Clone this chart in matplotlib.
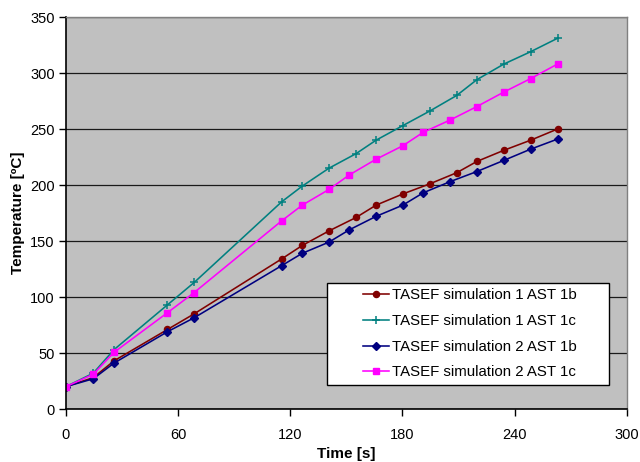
import matplotlib
matplotlib.use("Agg")
import matplotlib.pyplot as plt
from matplotlib.patches import Rectangle

plt.rcParams['font.family'] = ['Liberation Sans', 'DejaVu Sans']

# Simulation time samples [s]
time_sim1 = [0, 14.6, 25.7, 54.3, 68.6, 115.4, 126.4, 140.7, 155.2, 165.9,
             180.2, 194.6, 209.1, 219.8, 234.3, 248.6, 263.0]
time_sim2 = [0, 14.6, 25.7, 54.3, 68.6, 115.4, 126.4, 140.7, 151.6, 165.9,
             180.2, 191.1, 205.5, 219.8, 234.3, 248.6, 263.0]

# Temperatures [°C]
sim1_ast1b = [20, 28, 43, 71, 85, 134, 146, 159, 171, 182,
              192, 201, 211, 221, 231, 240, 250]
sim1_ast1c = [20, 32, 53, 93, 113, 185, 199, 215, 228, 240,
              253, 266, 280, 294, 308, 319, 331]
sim2_ast1b = [20, 27, 41, 69, 81.5, 128, 139, 149, 160, 172,
              182, 193, 203, 212, 222, 232, 241]
sim2_ast1c = [20, 31, 50.6, 86, 104, 168, 182, 196, 209, 223,
              235, 247, 258, 270, 283, 295, 308]

labels = ["TASEF simulation 1 AST 1b", "TASEF simulation 1 AST 1c",
          "TASEF simulation 2 AST 1b", "TASEF simulation 2 AST 1c"]

x_ticks = [0, 60, 120, 180, 240, 300]
y_ticks = [0, 50, 100, 150, 200, 250, 300, 350]

fig = plt.figure(figsize=(6.4, 4.62), dpi=100)
ax = fig.add_axes([0.1031, 0.1147, 0.8761, 0.8485])
ax.set_facecolor('#C0C0C0')

ax.plot(time_sim1, sim1_ast1b, color='#800000', marker='o', ms=4.4,
        lw=1.15, label=labels[0])
ax.plot(time_sim1, sim1_ast1c, color='#008080', marker='+', ms=6,
        mew=1.1, lw=1.15, label=labels[1])
ax.plot(time_sim2, sim2_ast1b, color='#000080', marker='D', ms=3.6,
        lw=1.15, label=labels[2])
ax.plot(time_sim2, sim2_ast1c, color='#FF00FF', marker='s', ms=4.6,
        lw=1.15, label=labels[3])

ax.set_xlim(0, 300)
ax.set_ylim(0, 350)
ax.set_xticks(x_ticks)
ax.set_yticks(y_ticks)
ax.yaxis.grid(True, color='#1a1a1a', lw=0.9)
ax.set_axisbelow(True)

for side in ('left', 'bottom'):
    ax.spines[side].set_color('black')
    ax.spines[side].set_linewidth(1.2)
for side in ('top', 'right'):
    ax.spines[side].set_color('#808080')
    ax.spines[side].set_linewidth(1.0)

ax.tick_params(axis='both', direction='out', length=5, width=1,
               labelsize=10.5, colors='black')
ax.tick_params(axis='x', pad=9)
ax.tick_params(axis='y', pad=3)

ax.set_xlabel("Time [s]", fontsize=11, fontweight='bold', labelpad=3)
ax.set_ylabel("Temperature [ºC]", fontsize=11, fontweight='bold', labelpad=4)

# Legend frame drawn as a fixed box, entries centred inside it
box_x, box_y, box_w, box_h = 0.466, 0.0605, 0.502, 0.262
frame = Rectangle((box_x, box_y), box_w, box_h, transform=ax.transAxes,
                  facecolor='white', edgecolor='black', lw=1.0, zorder=4)
ax.add_patch(frame)

leg = ax.legend(loc='center',
                bbox_to_anchor=(box_x + box_w / 2 + 0.003, box_y + box_h / 2),
                fontsize=10.8, frameon=False, labelspacing=0.78,
                handlelength=1.75, handletextpad=0.2, borderpad=0,
                borderaxespad=0)
leg.set_zorder(5)

fig.savefig("out.png", dpi=100)
